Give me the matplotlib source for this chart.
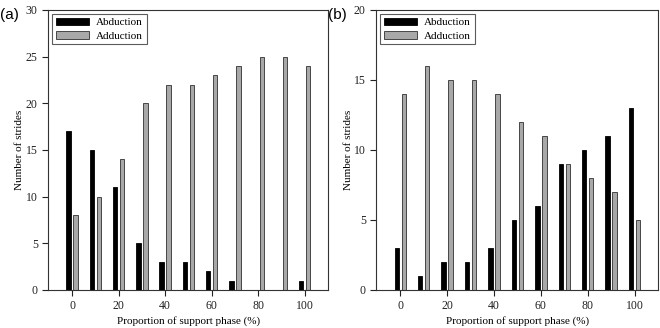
import matplotlib
matplotlib.use("Agg")
import matplotlib.pyplot as plt
import numpy as np

phase = [0, 10, 20, 30, 40, 50, 60, 70, 80, 90, 100]

abd_a = [17, 15, 11, 5, 3, 3, 2, 1, 0, 0, 1]
add_a = [8, 10, 14, 20, 22, 22, 23, 24, 25, 25, 24]

abd_b = [3, 1, 2, 2, 3, 5, 6, 9, 10, 11, 13]
add_b = [14, 16, 15, 15, 14, 12, 11, 9, 8, 7, 5]

plt.rcParams['font.family'] = ['Liberation Serif', 'DejaVu Serif']

fig = plt.figure(figsize=(6.6, 3.28), dpi=100)
ax1 = fig.add_axes([0.073, 0.116, 0.424, 0.854])
ax2 = fig.add_axes([0.570, 0.116, 0.427, 0.854])

x = np.array(phase)
w = 1.9
off = 1.5

def draw(ax, abd, add, ymax, label):
    ax.bar(x - off, abd, width=w, color='black', edgecolor='black', linewidth=0.6, label='Abduction')
    ax.bar(x + off, add, width=w, color='#a8a8a8', edgecolor='#303030', linewidth=0.6, label='Adduction')
    ax.set_xlim(-10.3, 110)
    ax.set_ylim(0, ymax)
    ax.set_xticks([0, 20, 40, 60, 80, 100])
    ax.set_yticks(np.arange(0, ymax + 1, 5))
    ax.tick_params(direction='out', length=4, width=0.8, labelsize=8.5, colors='#222222')
    for s in ax.spines.values():
        s.set_linewidth(0.8)
        s.set_color('#333333')
    ax.set_xlabel('Proportion of support phase (%)', fontsize=8, labelpad=3)
    ax.set_ylabel('Number of strides', fontsize=8, labelpad=1)
    leg = ax.legend(loc='upper left', fontsize=8, frameon=True, fancybox=False,
                    edgecolor='#333333', handlelength=3.0, handleheight=0.7,
                    borderpad=0.35, labelspacing=0.3, handletextpad=0.6,
                    borderaxespad=0.35)
    leg.get_frame().set_linewidth(0.8)
    fig.text(ax.get_position().x0 - 0.073, 0.955, label, fontsize=11,
             family=['Liberation Sans', 'DejaVu Sans'], va='center')

draw(ax1, abd_a, add_a, 30, '(a)')
draw(ax2, abd_b, add_b, 20, '(b)')

fig.savefig('out.png', dpi=100)
